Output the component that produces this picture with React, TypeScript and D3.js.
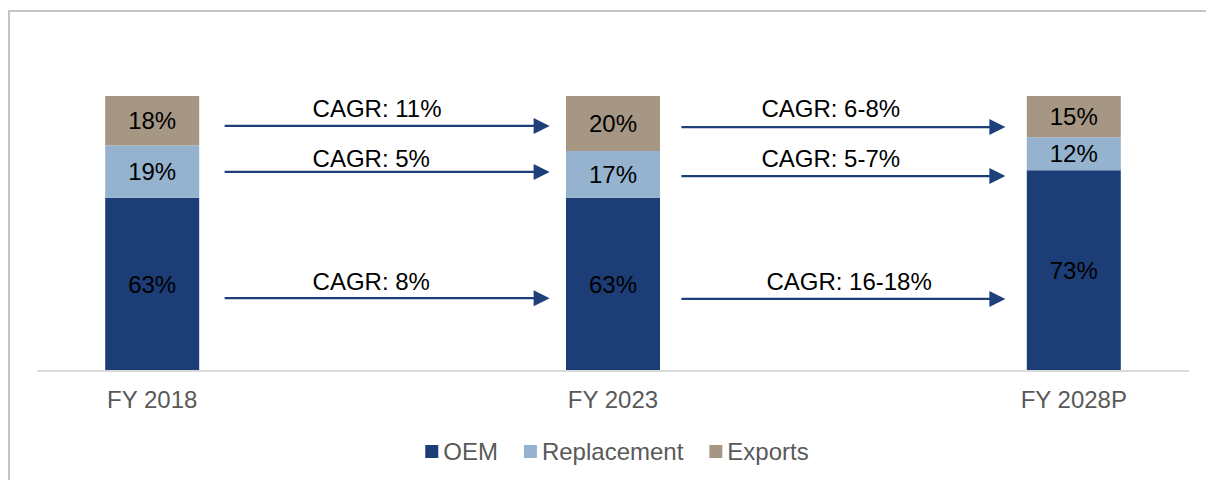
import React, { useEffect, useRef } from "react";
import * as d3 from "d3";

// ---- Data ----
const categories = ["FY 2018", "gap1", "FY 2023", "gap2", "FY 2028P"];
const barCategories = ["FY 2018", "FY 2023", "FY 2028P"];
const seriesNames = ["OEM", "Replacement", "Exports"];
const oemValues = [63, 63, 73];
const replacementValues = [19, 17, 12];
const exportsValues = [18, 20, 15];
const colors = ["#1C3D75", "#95B3CF", "#A69784"];

// CAGR annotations: gap band, label, arrow level (in y-axis value units)
const cagrGaps = ["gap1", "gap1", "gap1", "gap2", "gap2", "gap2"];
const cagrLabels = ["CAGR: 11%", "CAGR: 5%", "CAGR: 8%", "CAGR: 6-8%", "CAGR: 5-7%", "CAGR: 16-18%"];
const cagrLevels = [89.1, 72.4, 26.5, 88.7, 70.9, 26.2];
const cagrTextLevels = [92.4, 74.2, 29.5, 92.4, 74.2, 29.5];
const cagrTextDx = [-70, -70, -70, -82, -82, -77];

const W = 1206;
const H = 480;
const FONT = "'Liberation Sans', Arial, sans-serif";
const FS = 24;

export default function App() {
  const ref = useRef<SVGSVGElement | null>(null);

  useEffect(() => {
    document.body.style.margin = "0";
    const svg = d3.select(ref.current);
    svg.selectAll("*").remove();

    // frame
    svg.append("rect")
      .attr("x", 9).attr("y", 11)
      .attr("width", W).attr("height", H)
      .attr("fill", "none").attr("stroke", "#C4C4C4").attr("stroke-width", 2);

    const x = d3.scaleBand<string>().domain(categories).range([37, 1189]).padding(0);
    const y = d3.scaleLinear().domain([0, 100]).range([371, 96]);
    const barW = x.bandwidth() * 0.408;

    const rows = barCategories.map((c, i) => ({
      cat: c,
      OEM: oemValues[i],
      Replacement: replacementValues[i],
      Exports: exportsValues[i],
    }));
    const stacked = d3.stack<any>().keys(seriesNames)(rows);

    const g = svg.append("g");
    stacked.forEach((layer, si) => {
      layer.forEach((d: any) => {
        const cx = (x(d.data.cat) as number) + x.bandwidth() / 2;
        g.append("rect")
          .attr("x", cx - barW / 2)
          .attr("y", y(d[1]))
          .attr("width", barW)
          .attr("height", y(d[0]) - y(d[1]))
          .attr("fill", colors[si]);
        g.append("text")
          .attr("x", cx)
          .attr("y", (y(d[0]) + y(d[1])) / 2)
          .attr("dy", "0.36em")
          .attr("text-anchor", "middle")
          .attr("font-family", FONT)
          .attr("font-size", FS)
          .attr("fill", "#000")
          .text(`${d[1] - d[0]}%`);
      });
    });

    // baseline
    svg.append("line")
      .attr("x1", 37).attr("x2", 1189)
      .attr("y1", y(0)).attr("y2", y(0))
      .attr("stroke", "#D9D9D9").attr("stroke-width", 2);

    // category labels
    barCategories.forEach((c) => {
      svg.append("text")
        .attr("x", (x(c) as number) + x.bandwidth() / 2)
        .attr("y", 408)
        .attr("text-anchor", "middle")
        .attr("font-family", FONT)
        .attr("font-size", FS)
        .attr("fill", "#595959")
        .text(c);
    });

    // arrows
    const arrowColor = "#1F3F7A";
    cagrLabels.forEach((lab, i) => {
      const bc = (x(cagrGaps[i]) as number) + x.bandwidth() / 2;
      const isLeft = cagrGaps[i] === "gap1";
      const x0 = isLeft ? bc - 158 : bc - 162;
      const x1 = isLeft ? bc + 167 : bc + 162;
      const yy = y(cagrLevels[i]);
      svg.append("line")
        .attr("x1", x0).attr("x2", x1 - 14)
        .attr("y1", yy).attr("y2", yy)
        .attr("stroke", arrowColor).attr("stroke-width", 2.25);
      svg.append("path")
        .attr("d", `M${x1},${yy} L${x1 - 16},${yy - 8} L${x1 - 16},${yy + 8} Z`)
        .attr("fill", arrowColor);
      svg.append("text")
        .attr("x", bc + cagrTextDx[i])
        .attr("y", y(cagrTextLevels[i]))
        .attr("text-anchor", "start")
        .attr("font-family", FONT)
        .attr("font-size", FS)
        .attr("fill", "#000")
        .text(lab);
    });

    // legend
    const lg = svg.append("g");
    let cursor = 0;
    seriesNames.forEach((s, i) => {
      const item = lg.append("g");
      item.append("rect")
        .attr("x", cursor).attr("y", 445)
        .attr("width", 13).attr("height", 13)
        .attr("fill", colors[i]);
      const t = item.append("text")
        .attr("x", cursor + 18)
        .attr("y", 460)
        .attr("font-family", FONT)
        .attr("font-size", FS)
        .attr("fill", "#595959")
        .text(s);
      const tw = (t.node() as SVGTextElement).getComputedTextLength();
      cursor += 18 + tw + (i < seriesNames.length - 1 ? 26 : 0);
    });
    const legendStart = 617 - cursor / 2;
    lg.attr("transform", `translate(${legendStart},0)`);
  }, []);

  return <svg ref={ref} width={W} height={H} style={{ display: "block" }} />;
}
